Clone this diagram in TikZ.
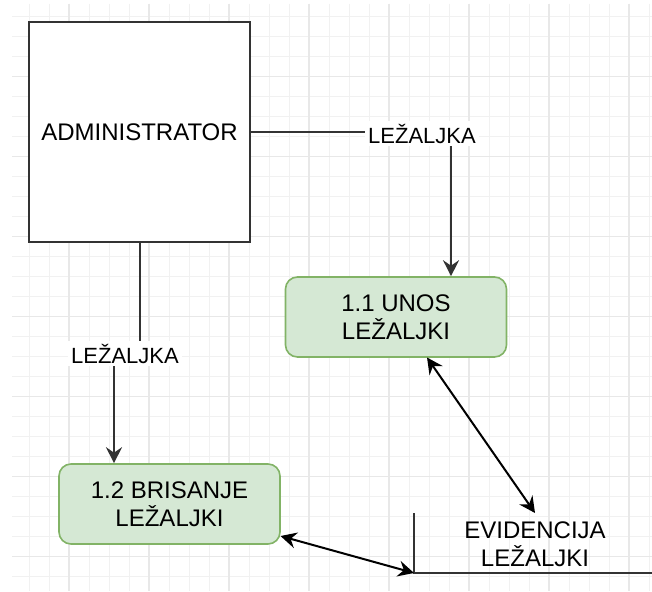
\documentclass[tikz,border=0pt]{standalone}
\usepackage{fontspec}
\setmainfont{Liberation Sans}
\usetikzlibrary{arrows.meta}
\definecolor{gminor}{HTML}{F1F1F1}
\definecolor{gmajor}{HTML}{E8E8E8}
\definecolor{pfill}{HTML}{D5E8D4}
\definecolor{pdraw}{HTML}{82B366}
\definecolor{ink}{HTML}{333333}
\tikzset{
  gridminor/.style={draw=gminor, line width=1pt},
  gridmajor/.style={draw=gmajor, line width=1.2pt},
  entbox/.style={draw=ink, line width=2.2pt, fill=white, inner sep=0pt,
    minimum width=221pt, minimum height=220pt, text=black,
    font=\fontsize{24}{28}\selectfont},
  procbox/.style={draw=pdraw, fill=pfill, line width=1.6pt, rounded corners=12pt,
    inner sep=0pt, minimum width=221pt, minimum height=80pt, align=center,
    text=black, font=\fontsize{24}{28.5}\selectfont},
  storetext/.style={inner sep=0pt, align=center, text=black,
    font=\fontsize{24}{28.5}\selectfont},
  storeline/.style={draw=ink, line width=2pt},
  flow/.style={draw=ink, line width=2pt, -{Stealth[length=16pt,width=16pt,inset=5.5pt]}},
  biflow/.style={draw=black, line width=2pt,
    {Stealth[length=16pt,width=16pt,inset=5.5pt]}-{Stealth[length=16pt,width=16pt,inset=5.5pt]}},
  flowlabel/.style={fill=white, inner sep=3pt, anchor=base, text=black,
    font=\fontsize{22}{26}\selectfont},
}
\begin{document}
\begin{tikzpicture}[x=1pt, y=-1pt]
  \useasboundingbox (0,0) rectangle (652,591);
  \fill[white] (0,0) rectangle (652,591);
  % grid
  \foreach \x in {29,49,...,649} \draw[gridminor] (\x,4) -- (\x,591);
  \foreach \y in {16.5,36.5,...,590} \draw[gridminor] (12,\y) -- (652,\y);
  \foreach \x in {69,149,...,649} \draw[gridmajor] (\x,4) -- (\x,591);
  \foreach \y in {76.5,156.5,...,590} \draw[gridmajor] (12,\y) -- (652,\y);

  % nodes
  \node[entbox] (admin) at (139.5,132) {ADMINISTRATOR};
  \node[procbox] (unos) at (396,317) {1.1 UNOS\\LEŽALJKI};
  \node[procbox] (bris) at (169.5,504) {1.2 BRISANJE\\LEŽALJKI};
  \node[storetext] (evid) at (535,544) {EVIDENCIJA\\LEŽALJKI};

  % data store lines
  \coordinate (stTop) at (414,513);
  \coordinate (stCorner) at (414,573);
  \coordinate (stEnd) at (652,573);
  \draw[storeline] (stTop) -- (stCorner) -- (stEnd);

  % flow admin -> unos
  \draw[flow] (admin.east) -- (451,132) -- (unos.north -| 451,0);
  \node[flowlabel] (lbl1) at (422,143) {LEŽALJKA};

  % flow admin -> brisanje
  \draw[flow] (admin.south -| 140,0) -- (140,355) -- (114,355) -- (bris.north -| 114,0);
  \node[flowlabel] (lbl2) at (125,363) {LEŽALJKA};

  % unos <-> store
  \coordinate (unosFoot) at (427,357.5);
  \coordinate (storeIn) at (535,513);
  \draw[biflow] (unosFoot) -- (storeIn);

  % brisanje <-> store
  \coordinate (brisFoot) at (280.5,536);
  \draw[biflow] (brisFoot) -- (stCorner);
\end{tikzpicture}
\end{document}
